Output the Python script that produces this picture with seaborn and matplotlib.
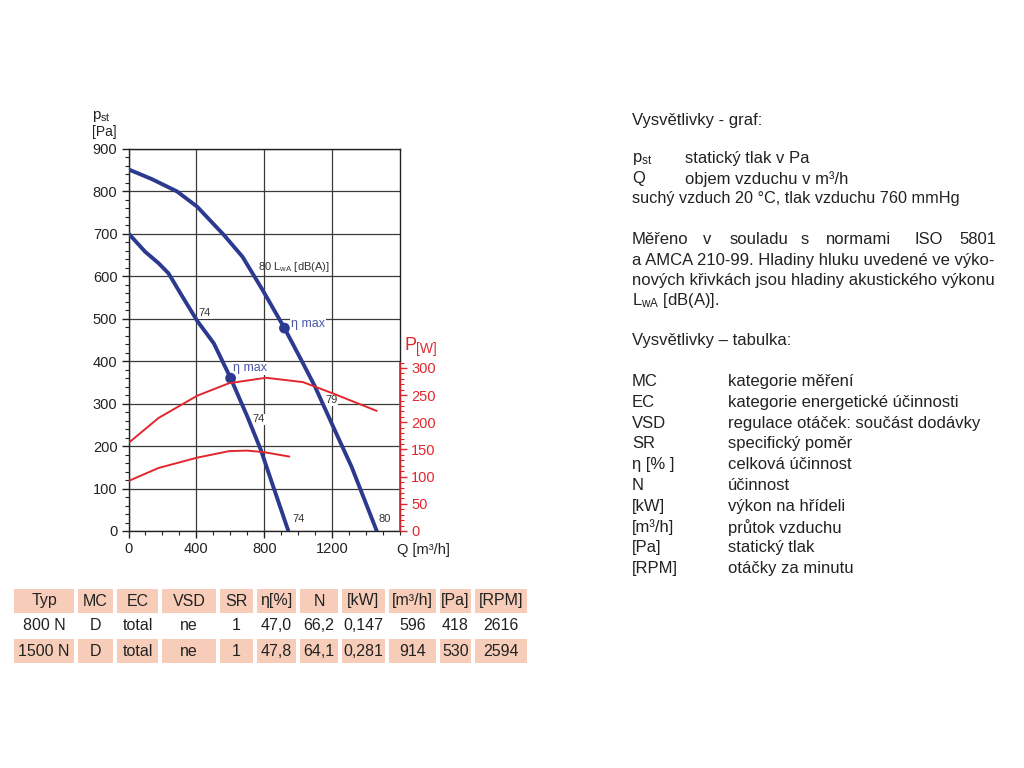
import matplotlib
matplotlib.use("Agg")
import pandas as pd
import matplotlib.pyplot as plt
import seaborn as sns
from matplotlib.patches import Rectangle
from matplotlib.ticker import MultipleLocator

# fan curves: Q [m3/h] vs p_st [Pa]
q_800 = [0, 98, 177, 236, 306, 405, 503, 602, 701, 780, 840, 942]
p_800 = [701, 658, 631, 607, 560, 495, 442, 360, 269, 191, 120, 0]
q_1500 = [0, 138, 286, 405, 563, 672, 790, 919, 1018, 1097, 1206, 1315, 1463]
p_1500 = [852, 829, 800, 764, 697, 646, 568, 478, 403, 342, 246, 151, 0]

# shaft power curves: Q vs P [W]
qp_800 = [0, 177, 405, 593, 700, 800, 948]
w_800 = [92, 116, 135, 147, 148, 145, 137]
qp_1500 = [0, 177, 405, 593, 810, 1028, 1206, 1463]
w_1500 = [162, 208, 249, 272, 282, 274, 253, 221]

# eta max points
eta_q = [602, 919]
eta_p = [360, 478]

# noise level labels along the curves
noise_q = [414, 731, 966, 1159, 1474]
noise_p = [513, 263, 28, 309, 28]
noise_txt = ["74", "74", "74", "79", "80"]

table_head = ["Typ", "MC", "EC", "VSD", "SR", "η[%]", "N", "[kW]", "[m³/h]", "[Pa]", "[RPM]"]
table_rows = [
    ["800 N", "D", "total", "ne", "1", "47,0", "66,2", "0,147", "596", "418", "2616"],
    ["1500 N", "D", "total", "ne", "1", "47,8", "64,1", "0,281", "914", "530", "2594"],
]

legend_graf = [("p$\\mathregular{_{st}}$", "statický tlak v Pa"), ("Q", "objem vzduchu v m³/h")]
legend_tab = [
    ("MC", "kategorie měření"),
    ("EC", "kategorie energetické účinnosti"),
    ("VSD", "regulace otáček: součást dodávky"),
    ("SR", "specifický poměr"),
    ("η [% ]", "celková účinnost"),
    ("N", "účinnost"),
    ("[kW]", "výkon na hřídeli"),
    ("[m³/h]", "průtok vzduchu"),
    ("[Pa]", "statický tlak"),
    ("[RPM]", "otáčky za minutu"),
]

BLUE = "#2b3a8f"
RED = "#e3262e"
TXT = "#222222"
SALMON = "#f7cdb9"

sns.set_style("white")
plt.rcParams["font.family"] = ["Liberation Sans", "DejaVu Sans"]
plt.rcParams["mathtext.fontset"] = "custom"
plt.rcParams["mathtext.rm"] = "Liberation Sans"
plt.rcParams["mathtext.it"] = "Liberation Sans:italic"

fig = plt.figure(figsize=(10.24, 7.68), dpi=100)

# overlay in pixel coordinates for texts and table
ov = fig.add_axes([0, 0, 1, 1])
ov.set_xlim(0, 1024)
ov.set_ylim(768, 0)
ov.axis("off")

ax = fig.add_axes([128.5 / 1024, (768 - 531) / 768, 271.5 / 1024, 382 / 768])

fan = pd.DataFrame({
    "Q": q_800 + q_1500,
    "p": p_800 + p_1500,
    "typ": ["800 N"] * len(q_800) + ["1500 N"] * len(q_1500),
})
sns.lineplot(data=fan, x="Q", y="p", hue="typ", palette=[BLUE, BLUE], estimator=None,
             sort=False, linewidth=2.8, legend=False, ax=ax, zorder=4)
sns.scatterplot(x=eta_q, y=eta_p, color=BLUE, s=60, edgecolor="none", ax=ax, zorder=5)

for q, p, t in zip(noise_q, noise_p, noise_txt):
    ax.text(q, p, t, fontsize=8, color="#333333", va="center", ha="left", zorder=3,
            bbox=dict(fc="white", ec="none", pad=0.6))
ax.text(763, 623, "80 L$\\mathregular{_{wA}}$ [dB(A)]", fontsize=8, color="#333333",
        va="center", ha="left", zorder=3)
ax.text(958, 488, "η max", fontsize=9, color="#4a58a6", va="center", ha="left", zorder=3,
        bbox=dict(fc="white", ec="none", pad=0.6))
ax.text(613, 383, "η max", fontsize=9, color="#4a58a6", va="center", ha="left", zorder=3,
        bbox=dict(fc="white", ec="none", pad=0.6))

ax.set_xlim(0, 1600)
ax.set_ylim(0, 900)
ax.set_xticks([0, 400, 800, 1200])
ax.set_yticks(range(0, 901, 100))
ax.xaxis.set_minor_locator(MultipleLocator(100))
ax.yaxis.set_minor_locator(MultipleLocator(20))
ax.tick_params(axis="both", which="major", direction="out", length=5, width=1,
               labelsize=10.5, colors="#222222", pad=3)
ax.tick_params(axis="both", which="minor", direction="out", length=3, width=0.8, colors="#222222")
ax.tick_params(axis="y", which="both", left=True)
ax.tick_params(axis="x", which="both", bottom=True)
ax.grid(True, which="major", color="#3a3a3a", linewidth=0.9)
ax.set_axisbelow(True)
for s in ax.spines.values():
    s.set_color("#222222")
    s.set_linewidth(1)
ax.set_xlabel("")
ax.set_ylabel("")

# power axis on the right
ax2 = ax.twinx()
power = pd.DataFrame({
    "Q": qp_800 + qp_1500,
    "W": w_800 + w_1500,
    "typ": ["800 N"] * len(qp_800) + ["1500 N"] * len(qp_1500),
})
sns.lineplot(data=power, x="Q", y="W", hue="typ", palette=[RED, RED], estimator=None,
             sort=False, linewidth=1.4, legend=False, ax=ax2)
ax2.set_ylim(0, 703)
ax2.set_yticks(range(0, 301, 50))
ax2.set_yticks(range(0, 311, 10), minor=True)
ax2.tick_params(axis="y", which="major", direction="out", length=5, width=1,
                labelsize=10.5, colors=RED, pad=3)
ax2.tick_params(axis="y", which="minor", direction="out", length=3, width=0.8, colors=RED)
ax2.tick_params(axis="y", which="both", right=True)
ax2.set_ylabel("")
ax2.set_xlabel("")
for k in ["top", "left", "bottom"]:
    ax2.spines[k].set_visible(False)
ax2.spines["right"].set_color(RED)
ax2.spines["right"].set_linewidth(1.2)
ax2.spines["right"].set_bounds(0, 310)
ax2.grid(False)

# axis titles
ov.text(92, 117, "p$\\mathregular{_{st}}$", fontsize=11, color=TXT, va="center", ha="left")
ov.text(92, 132, "[Pa]", fontsize=10, color=TXT, va="center", ha="left")
ov.text(397, 550, "Q [m³/h]", fontsize=10.5, color=TXT, va="center", ha="left")
ov.text(405, 345, "P", fontsize=13, color=RED, va="center", ha="left")
ov.text(416, 349, "[W]", fontsize=10, color=RED, va="center", ha="left")

# table
col_l = [14, 78, 117, 162, 220, 257, 300, 342, 389, 440, 475]
col_r = [74, 113, 158, 216, 253, 296, 338, 385, 436, 471, 527]
row_y = [601, 626, 651]
rows = [table_head] + table_rows
for ri, row in enumerate(rows):
    for ci, val in enumerate(row):
        if ri != 1:
            ov.add_patch(Rectangle((col_l[ci], row_y[ri] - 12), col_r[ci] - col_l[ci], 24,
                                   facecolor=SALMON, edgecolor="none"))
        ov.text((col_l[ci] + col_r[ci]) / 2, row_y[ri], val, fontsize=11.5, color=TXT,
                ha="center", va="center")

# explanatory text on the right
fs = 12
ov.text(632, 120, "Vysvětlivky - graf:", fontsize=fs, color=TXT, va="center")
for (a, b), y in zip(legend_graf, [159, 179]):
    ov.text(632, y, a, fontsize=fs, color=TXT, va="center")
    ov.text(685, y, b, fontsize=fs, color=TXT, va="center")
ov.text(632, 198, "suchý vzduch 20 °C, tlak vzduchu 760 mmHg", fontsize=11.7, color=TXT, va="center")

words = ["Měřeno", "v", "souladu", "s", "normami", "ISO", "5801"]
word_x = [632, 703, 730, 801, 826, 915, 959]
for w, x in zip(words, word_x):
    ov.text(x, 240, w, fontsize=fs, color=TXT, va="center")
ov.text(632, 260, "a AMCA 210-99. Hladiny hluku uvedené ve výko-", fontsize=fs, color=TXT, va="center")
ov.text(632, 281, "nových křivkách jsou hladiny akustického výkonu", fontsize=fs, color=TXT, va="center")
ov.text(632, 301, "L$\\mathregular{_{wA}}$ [dB(A)].", fontsize=fs, color=TXT, va="center")

ov.text(632, 341, "Vysvětlivky – tabulka:", fontsize=fs, color=TXT, va="center")
for i, (a, b) in enumerate(legend_tab):
    y = 381.5 + i * 20.8
    ov.text(632, y, a, fontsize=fs, color=TXT, va="center")
    ov.text(728, y, b, fontsize=fs, color=TXT, va="center")

fig.savefig("out.png", dpi=100)
